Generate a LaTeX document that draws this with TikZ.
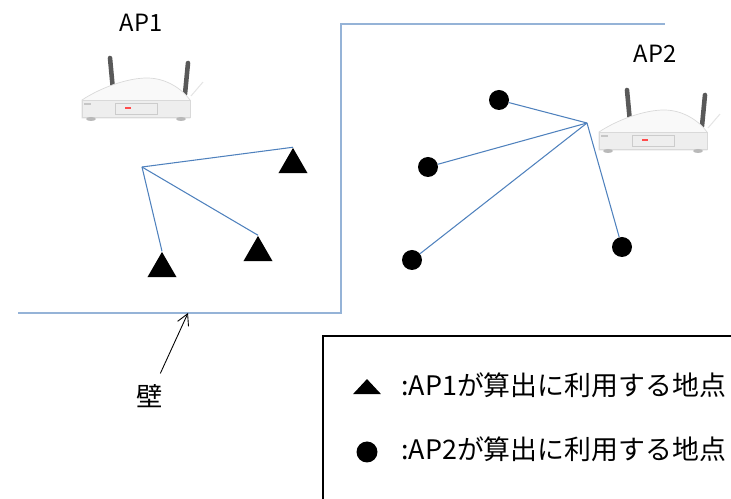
\documentclass[tikz,border=0pt]{standalone}
\usepackage{fontspec}
\setmainfont{Noto Sans CJK JP}
\usepackage{tikz}
\usetikzlibrary{arrows,arrows.meta,positioning,calc}
\usetikzlibrary{shapes.geometric}

\definecolor{wallblue}{RGB}{149,179,215}
\definecolor{linkblue}{RGB}{79,129,189}

\tikzset{
	router/.pic={
		% antennas
		\draw [line width=2.6pt, line cap=round, gray!70!black] (-25,-42) -- (-22,-10);
		\draw [line width=2.6pt, line cap=round, gray!70!black] (53,-37) -- (50,-6);
		\draw [gray!20, line width=0.6pt] (56,-4) -- (68,-18);
		% body
		\filldraw [fill=gray!5, draw=gray!30, line width=0.4pt] (-53,0) .. controls (-35,-12) and (-8,-22) .. (12,-22) .. controls (32,-22) and (48,-10) .. (55,0) -- (55,18) -- (-53,18) -- cycle;
		\filldraw [fill=gray!13, draw=gray!30, line width=0.4pt] (-53,0) -- (55,0) -- (55,17) -- (-53,17) -- cycle;
		\draw [gray!40, line width=0.4pt] (-20,3) rectangle (22,14);
		\fill [red!70] (-10,7) rectangle (-4,9);
		\fill [gray!45] (-51,3) rectangle (-44,5);
		% feet
		\fill [gray!55] (-44,19) ellipse (5 and 2);
		\fill [gray!55] (46,19) ellipse (5 and 2);
	}
}

\begin{document}
\begin{tikzpicture}[x=0.02cm, y=-0.02cm,
		wall/.style={wallblue, line width=0.9pt},
		link/.style={linkblue, line width=0.6pt},
		tri/.style={regular polygon, regular polygon sides=3, fill=black, minimum size=0.67cm, inner sep=0pt},
		spot/.style={circle, fill=black, minimum size=0.4cm, inner sep=0pt},
		legtext/.style={font=\fontsize{15.3}{17}\selectfont, anchor=west, inner sep=0pt}]
		\useasboundingbox (0,0) rectangle (731,499);
		\clip (0,0) rectangle (731,499);

		% access points
		\node at (141,23) [font=\fontsize{13.5}{15}\selectfont] (AP1) {AP1};
		\pic at (135,100) {router};
		\node at (655,54) [font=\fontsize{13.5}{15}\selectfont] (AP2) {AP2};
		\pic at (652,132) {router};

		% wall
		\draw [wall] (18,313) -- (341,313) -- (341,24) -- (665,24);
		\coordinate (W) at (188,313);
		\node at (150,396) [font=\fontsize{15}{16}\selectfont] (Wl) {壁};
		\draw [-{Straight Barb[length=2.2mm,width=2.4mm]}, line width=0.5pt, shorten <=3pt] (Wl) -- (W);

		% points used by AP1
		\coordinate (H1) at (142,167);
		\node at (293,164.7) [tri] (T1) {};
		\node at (258,252.7) [tri] (T2) {};
		\node at (162,268.7) [tri] (T3) {};
		\draw [link] (H1) edge (T1.corner 1) (H1) edge (T2.corner 1) (H1) edge (T3.corner 1);

		% points used by AP2
		\coordinate (H2) at (587,123);
		\node at (499,100) [spot] (D1) {};
		\node at (428,167) [spot] (D2) {};
		\node at (412,260) [spot] (D3) {};
		\node at (622,247) [spot] (D4) {};
		\draw [link] (H2) edge (D1) (H2) edge (D2) (H2) edge (D3) (H2) edge (D4);

		% legend
		\draw [line width=1.6pt] (323,520) -- (323,336) -- (760,336);
		\node at (367,388) [isosceles triangle, isosceles triangle apex angle=86, shape border rotate=90, fill=black, minimum height=0.3cm, inner sep=0pt] (Lt) {};
		\node at (401,385) [legtext] (Lt1) {:AP1が算出に利用する地点};
		\node at (367,452) [spot, minimum size=0.42cm] (Ld) {};
		\node at (401,449) [legtext] (Ld1) {:AP2が算出に利用する地点};
\end{tikzpicture}
\end{document}
